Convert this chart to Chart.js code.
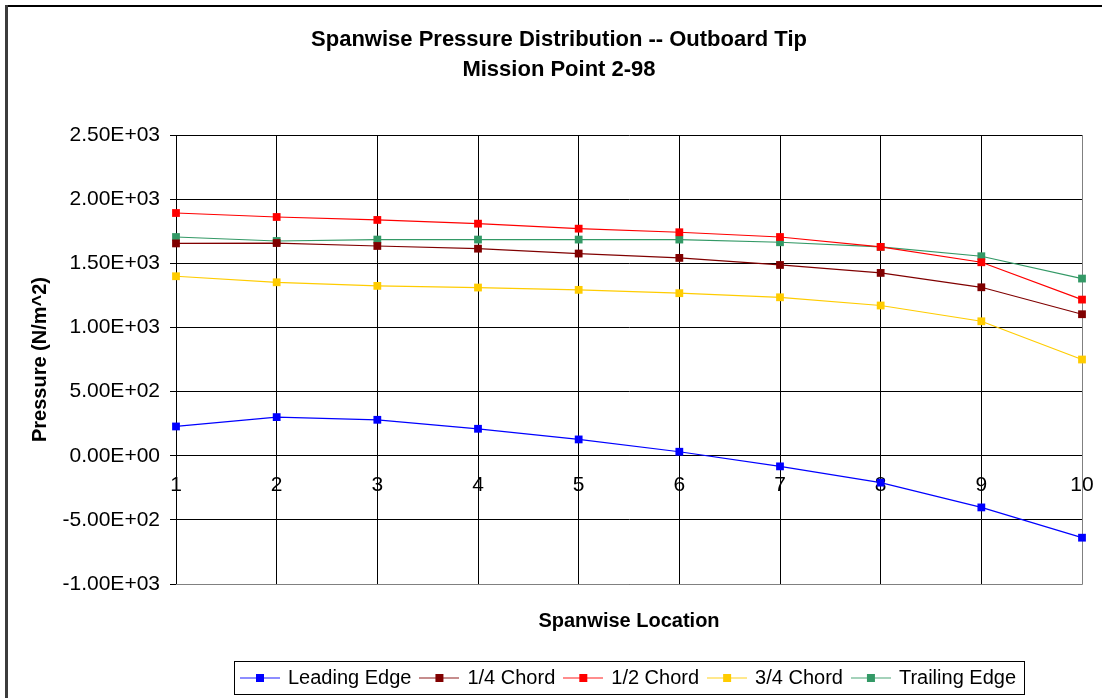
<!DOCTYPE html>
<html>
<head>
<meta charset="utf-8">
<script src="https://cdn.jsdelivr.net/npm/chart.js@4/dist/chart.umd.min.js"></script>
<style>
  html, body { margin: 0; padding: 0; background: #fff; }
  #wrap { width: 1102px; height: 698px; }
</style>
</head>
<body>
<div id="wrap"><canvas id="chart" width="1102" height="698"></canvas></div>
<script>
// values
const spanwise = [1, 2, 3, 4, 5, 6, 7, 8, 9, 10];
const leadingEdge = [228, 301, 280, 210, 127, 31, -83, -210, -403, -639];
const quarterChord = [1655, 1658, 1635, 1614, 1576, 1542, 1487, 1425, 1313, 1103];
const halfChord = [1892, 1861, 1838, 1809, 1770, 1742, 1705, 1628, 1508, 1217];
const threeQuarterChord = [1399, 1352, 1324, 1311, 1293, 1267, 1235, 1171, 1048, 750];
const trailingEdge = [1705, 1674, 1685, 1685, 1685, 1685, 1664, 1628, 1555, 1381];

const seriesNames = ['Leading Edge', '1/4 Chord', '1/2 Chord', '3/4 Chord', 'Trailing Edge'];
const seriesColors = ['#0000ff', '#800000', '#ff0000', '#ffcc00', '#339966'];
const seriesValues = [leadingEdge, quarterChord, halfChord, threeQuarterChord, trailingEdge];

const yTicks = [-1000, -500, 0, 500, 1000, 1500, 2000, 2500];

const font = "'Liberation Sans', Arial, sans-serif";

// 2.50E+03 style labels
function sci(v) {
    if (v === 0) return '0.00E+00';
    const parts = v.toExponential(2).split('e');
    const exp = parseInt(parts[1], 10);
    return parts[0] + 'E' + (exp < 0 ? '-' : '+') + String(Math.abs(exp)).padStart(2, '0');
}

// little line + square marker for the legend
function legendMarker(color) {
    const c = document.createElement('canvas');
    c.width = 40;
    c.height = 10;
    const g = c.getContext('2d');
    g.strokeStyle = color;
    g.globalAlpha = 0.6;
    g.lineWidth = 1.3;
    g.beginPath();
    g.moveTo(0, 5);
    g.lineTo(40, 5);
    g.stroke();
    g.globalAlpha = 1;
    g.fillStyle = color;
    g.fillRect(16, 1, 8, 8);
    return c;
}
const markers = seriesColors.map(legendMarker);

const framePlugin = {
    id: 'frame',
    afterLayout(chart) {
        // legend centred under the plot area, title nudged a bit right like the original
        chart.legend.left += 84;
        chart.legend.right += 84;
        chart.titleBlock.left += 14;
        chart.titleBlock.right += 14;
    },
    beforeDraw(chart) {
        const ctx = chart.ctx;
        ctx.save();
        ctx.fillStyle = '#fff';
        ctx.fillRect(0, 0, chart.width, chart.height);
        ctx.fillStyle = '#000';
        ctx.fillRect(5, 5, chart.width, 2);
        ctx.fillStyle = '#3c3c3c';
        ctx.fillRect(5, 5, 3, chart.height);
        ctx.restore();
    },
    beforeDatasetsDraw(chart) {
        const a = chart.chartArea;
        const ctx = chart.ctx;
        ctx.save();
        ctx.strokeStyle = '#808080';
        ctx.lineWidth = 1;
        ctx.beginPath();
        ctx.moveTo(a.right + 0.5, a.top);
        ctx.lineTo(a.right + 0.5, a.bottom + 0.5);
        ctx.lineTo(a.left, a.bottom + 0.5);
        ctx.stroke();
        ctx.restore();
    },
    afterDraw(chart) {
        const boxes = chart.legend.legendHitBoxes;
        if (!boxes || !boxes.length) return;
        const left = Math.min(...boxes.map(b => b.left)) - 8;
        const right = Math.max(...boxes.map(b => b.left + b.width)) + 8;
        const top = Math.min(...boxes.map(b => b.top)) - 7;
        const bottom = Math.max(...boxes.map(b => b.top + b.height)) + 6;
        const ctx = chart.ctx;
        ctx.save();
        ctx.strokeStyle = '#000';
        ctx.lineWidth = 1;
        ctx.strokeRect(Math.round(left) + 0.5, Math.round(top) + 0.5, Math.round(right - left), Math.round(bottom - top));
        ctx.restore();
    }
};

const datasets = seriesNames.map((name, i) => ({
    label: name,
    data: spanwise.map((x, j) => ({ x: x, y: seriesValues[i][j] })),
    borderColor: seriesColors[i],
    backgroundColor: seriesColors[i],
    borderWidth: 1.2,
    pointStyle: 'rect',
    pointRadius: 5.5,
    pointBorderWidth: 0,
    pointBackgroundColor: seriesColors[i],
    tension: 0,
    clip: false
}));

const ctx = document.getElementById('chart').getContext('2d');
const chart = new Chart(ctx, {
    type: 'line',
    data: { datasets: datasets },
    plugins: [framePlugin],
    options: {
        responsive: false,
        animation: false,
        devicePixelRatio: 1,
        layout: { padding: { left: 8, right: 20, top: 6, bottom: 0 } },
        plugins: {
            title: {
                display: true,
                text: ['Spanwise Pressure Distribution -- Outboard Tip', 'Mission Point 2-98'],
                color: '#000',
                font: { family: font, size: 22, weight: 'bold', lineHeight: 1.364 },
                padding: { top: 19, bottom: 50 }
            },
            legend: {
                position: 'bottom',
                labels: {
                    color: '#000',
                    font: { family: font, size: 20 },
                    usePointStyle: true,
                    pointStyleWidth: 36,
                    padding: 10,
                    generateLabels: (c) => c.data.datasets.map((d, i) => ({
                        text: d.label,
                        pointStyle: markers[i],
                        fillStyle: d.borderColor,
                        strokeStyle: d.borderColor,
                        lineWidth: 0,
                        hidden: false,
                        datasetIndex: i,
                        fontColor: '#000'
                    }))
                }
            },
            tooltip: { enabled: false }
        },
        scales: {
            x: {
                type: 'linear',
                min: 1,
                max: 10,
                position: { y: 0 },
                afterBuildTicks: (scale) => { scale.ticks = spanwise.map(v => ({ value: v })); },
                // let the "10" label hang over the plot edge instead of shrinking the plot
                afterFit: (scale) => { scale.paddingLeft = 0; scale.paddingRight = 0; },
                ticks: {
                    color: '#000',
                    font: { family: font, size: 21 },
                    padding: 11,
                    maxRotation: 0
                },
                grid: { color: '#000', lineWidth: 1, tickLength: 6 },
                border: { color: '#000', width: 1 }
            },
            x2: {
                type: 'linear',
                position: 'bottom',
                min: 1,
                max: 10,
                ticks: { display: false },
                grid: { display: false, drawTicks: false },
                border: { display: false },
                afterFit: (scale) => { scale.height = 74; },
                title: {
                    display: true,
                    text: 'Spanwise Location',
                    color: '#000',
                    font: { family: font, size: 20, weight: 'bold', lineHeight: 1.2 },
                    padding: { top: 0, bottom: 25 }
                }
            },
            y: {
                min: -1000,
                max: 2500,
                afterBuildTicks: (scale) => { scale.ticks = yTicks.map(v => ({ value: v })); },
                afterFit: (scale) => { scale.width = 168; },
                ticks: {
                    color: '#000',
                    font: { family: font, size: 21 },
                    padding: 10,
                    callback: (v) => sci(v)
                },
                grid: { color: '#000', lineWidth: 1, tickLength: 6 },
                border: { color: '#000', width: 1 },
                title: {
                    display: true,
                    text: 'Pressure (N/m^2)',
                    color: '#000',
                    font: { family: font, size: 20, weight: 'bold', lineHeight: 1.2 },
                    padding: { top: 20, bottom: 0 }
                }
            }
        }
    }
});
</script>
</body>
</html>
